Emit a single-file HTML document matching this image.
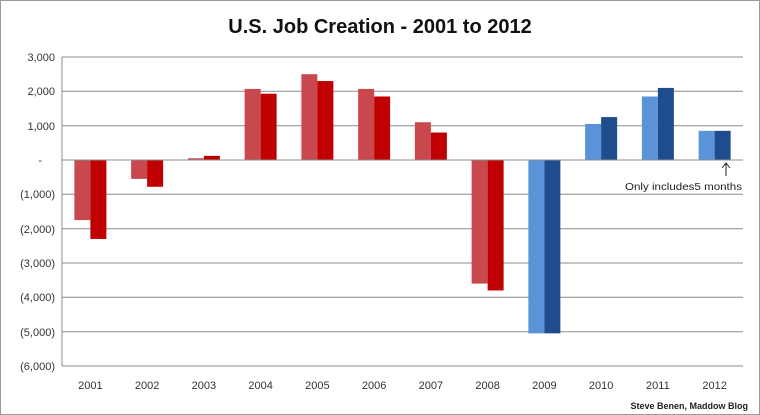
<!DOCTYPE html>
<html><head><meta charset="utf-8"><style>
html,body{margin:0;padding:0;background:#fff}
svg{display:block}
text{font-family:"Liberation Sans",sans-serif}
</style></head><body>
<svg width="760" height="415" xmlns="http://www.w3.org/2000/svg">
<rect x="0.5" y="0.5" width="759" height="414" fill="#fff" stroke="#9a9a9a"/>
<text x="380" y="33" text-anchor="middle" font-size="20" font-weight="bold" fill="#111">U.S. Job Creation - 2001 to 2012</text>
<g stroke="#8c8c8c" stroke-width="1">
<line x1="62" x2="743" y1="57" y2="57"/>
<line x1="62" x2="743" y1="91.3" y2="91.3"/>
<line x1="62" x2="743" y1="125.7" y2="125.7"/>
<line x1="62" x2="743" y1="194.3" y2="194.3"/>
<line x1="62" x2="743" y1="228.7" y2="228.7"/>
<line x1="62" x2="743" y1="263" y2="263"/>
<line x1="62" x2="743" y1="297.3" y2="297.3"/>
<line x1="62" x2="743" y1="331.7" y2="331.7"/>
<line x1="62" x2="743" y1="366" y2="366"/>
<line x1="62" x2="62" y1="57" y2="366"/>
</g>
<g font-size="11" fill="#333" text-anchor="end">
<text x="55" y="61">3,000</text>
<text x="55" y="95">2,000</text>
<text x="55" y="130">1,000</text>
<text x="42" y="164">-</text>
<text x="55" y="198">(1,000)</text>
<text x="55" y="233">(2,000)</text>
<text x="55" y="267">(3,000)</text>
<text x="55" y="301">(4,000)</text>
<text x="55" y="336">(5,000)</text>
<text x="55" y="370">(6,000)</text>
</g>
<g id="bars"></g>
<line x1="62" x2="743" y1="160" y2="160" stroke="#8c8c8c"/>
<g font-size="11" fill="#333" text-anchor="middle" id="xl"></g>
<text x="625" y="190" font-size="10" fill="#222" textLength="117" lengthAdjust="spacingAndGlyphs">Only includes5 months</text>
<path d="M726 176 L726 163 M722 168 L726 163 L730 168" stroke="#222" fill="none"/>
<text x="748" y="409" font-size="9" font-weight="bold" fill="#222" text-anchor="end">Steve Benen, Maddow Blog</text>
<script>
var d=[[-1750,-2300],[-550,-780],[50,120],[2070,1930],[2500,2300],[2070,1850],[1100,800],[-3600,-3800],[-5050,-5050],[1050,1250],[1850,2100],[850,850]];
var g=document.getElementById('bars'),xl=document.getElementById('xl'),ns="http://www.w3.org/2000/svg";
var s=0.03433,z=160;
d.forEach(function(v,i){
 var c=62+56.75*(i+0.5);
 var cols=i<8?["#c9484e","#c00000"]:["#5b93d8","#1f4c8c"];
 v.forEach(function(val,j){
  var r=document.createElementNS(ns,'rect');
  var h=Math.abs(val)*s;
  r.setAttribute('x',c-16+j*16);r.setAttribute('width',16);
  r.setAttribute('y',val>0?z-h:z);r.setAttribute('height',h);
  r.setAttribute('fill',cols[j]);g.appendChild(r);
 });
 var t=document.createElementNS(ns,'text');
 t.setAttribute('x',c);t.setAttribute('y',389);t.textContent=2001+i;xl.appendChild(t);
});
</script>
</svg>
</body></html>
